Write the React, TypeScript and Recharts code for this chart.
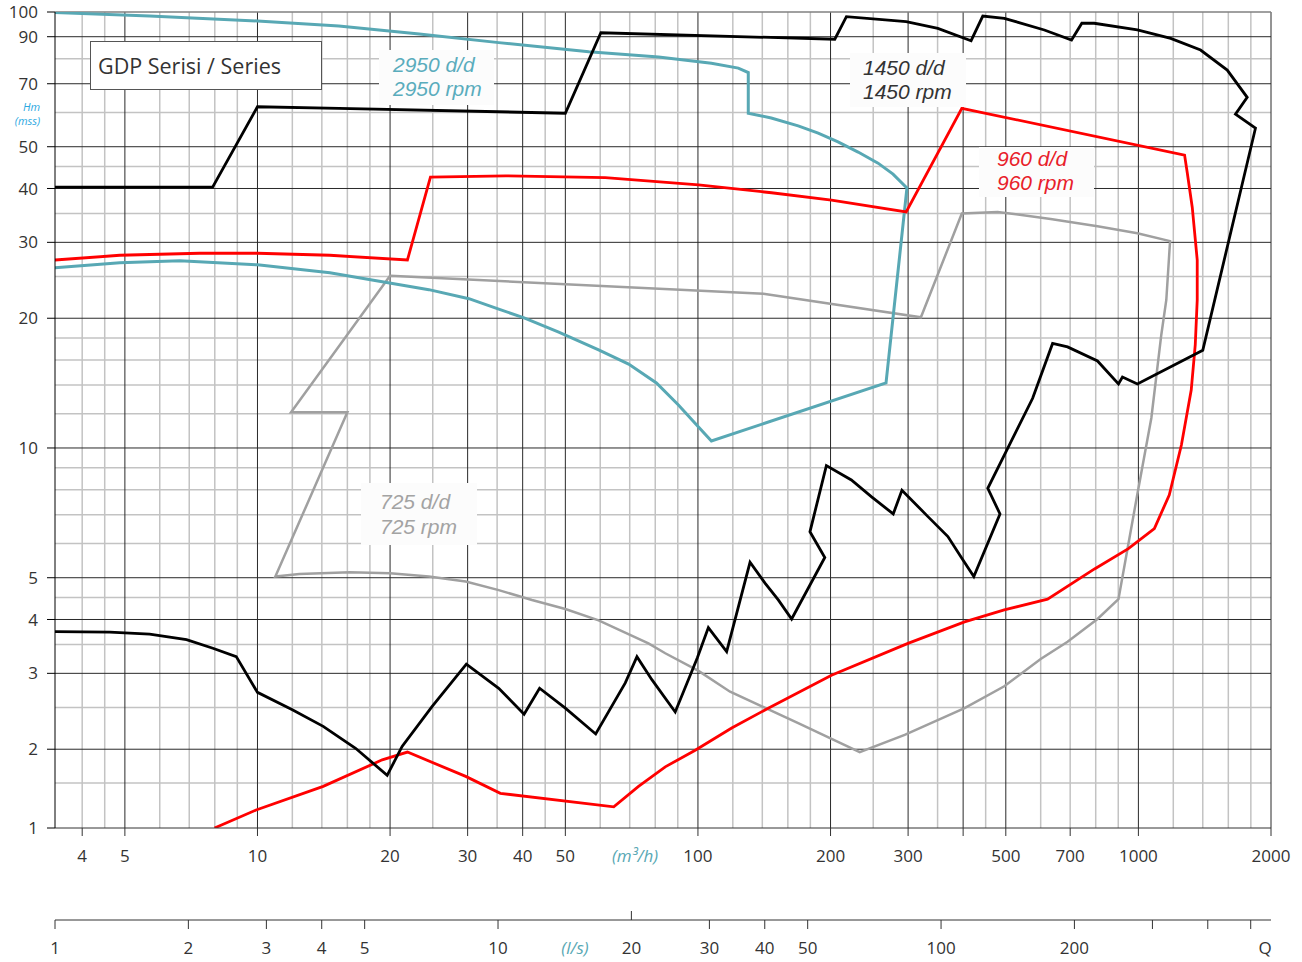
import React from "react";
import { LineChart, Line, XAxis, YAxis, CartesianGrid } from "recharts";

// flow Q in m3/h, head H in mss
const teal2950Q = [3.47, 5.69, 10, 15.3, 23.3, 35.3, 56.5, 81.4, 107.3, 123.5, 130.1, 130.1, 146.7, 168.9, 187.5, 208, 231, 256.4, 277.3, 298.2, 267.3, 107.3, 100.3, 90.3, 80.5, 69.6, 59.5, 48.3, 40.3, 35.3, 30.2, 24.5, 20.1, 14.6, 10, 6.66, 4.87, 3.47];
const teal2950H = [102.4, 100.5, 97.9, 95.3, 91.3, 87.2, 83.1, 80.8, 78.1, 76.1, 74.3, 59.8, 58.3, 55.9, 53.8, 51.3, 48.6, 45.8, 43.2, 40.1, 14.15, 10.38, 11.19, 12.58, 14.15, 15.66, 16.88, 18.58, 20.03, 21.0, 22.2, 23.3, 24.1, 25.5, 26.6, 27.2, 26.9, 26.2];

const black1450Q = [3.47, 7.91, 10, 15.3, 50, 60.2, 204.5, 217.3, 297, 350.5, 417, 443.3, 496, 611.5, 705, 744, 793.6, 994.7, 1184, 1384, 1591, 1766, 1661, 1844, 1400, 994.7, 920, 901, 807.5, 690.5, 638.5, 575.3, 455, 485, 423, 395.3, 369.4, 332.8, 290.5, 277.6, 247.5, 223, 195.7, 179.6, 194.1, 163.2, 152.2, 142, 131.3, 116.2, 105.6, 99.7, 88.8, 78.6, 72.7, 68.4, 58.6, 50, 43.7, 40.3, 35.3, 29.8, 24.9, 21.3, 19.7, 16.7, 14.1, 12.0, 10, 8.95, 7.92, 6.9, 5.69, 4.62, 3.47];
const black1450H = [40.3, 40.3, 61.9, 61.4, 59.8, 91.9, 88.8, 100.2, 97.5, 94.1, 88.1, 100.5, 99.3, 93.3, 88.4, 96.7, 96.7, 93.3, 89.2, 83.8, 75.3, 65.1, 59.5, 55.2, 16.85, 14.08, 14.61, 14.08, 15.92, 17.16, 17.48, 13.04, 8.06, 7.03, 5.03, 5.59, 6.23, 6.93, 7.98, 7.03, 7.71, 8.43, 9.1, 6.39, 5.57, 4.01, 4.44, 4.86, 5.43, 3.37, 3.83, 3.26, 2.44, 2.9, 3.28, 2.85, 2.17, 2.49, 2.77, 2.41, 2.77, 3.15, 2.51, 2.03, 1.74, 2.01, 2.26, 2.47, 2.71, 3.28, 3.43, 3.59, 3.7, 3.74, 3.75];

const red960Q = [3.47, 4.87, 7.39, 10, 14.6, 21.9, 24.7, 36.6, 61.6, 100.3, 146.9, 201, 297, 397.3, 1273, 1291, 1325, 1360, 1360, 1346, 1318, 1252, 1175, 1087, 949, 795, 622, 496, 403, 299.8, 201, 144.4, 119.3, 98.6, 84.3, 73.3, 64.4, 35.6, 29.7, 21.9, 19.2, 14.1, 9.93, 7.99];
const red960H = [27.3, 28.0, 28.3, 28.3, 28.0, 27.3, 42.5, 42.8, 42.4, 40.8, 39.1, 37.6, 35.3, 61.4, 47.8, 43.5, 36.2, 27.3, 22.05, 17.34, 13.63, 10.16, 7.78, 6.5, 5.84, 5.24, 4.46, 4.21, 3.95, 3.52, 2.97, 2.49, 2.24, 1.99, 1.82, 1.64, 1.47, 1.58, 1.73, 1.97, 1.89, 1.64, 1.446, 1.313];

const gray725Q = [20, 140.8, 320.8, 397.3, 479, 632, 807.5, 994.7, 1180, 1157, 1127, 1070, 994.7, 944.5, 901, 807.5, 690.5, 600, 496, 403, 294.7, 233, 168.9, 118.3, 100.3, 84.3, 77.2, 59.5, 50, 42.0, 35.3, 29.7, 24.5, 20.0, 16.2, 12.45, 10.98, 16.0, 11.92, 20];
const gray725H = [25.1, 22.8, 20.1, 35.0, 35.3, 34.0, 32.7, 31.5, 30.2, 22.05, 18.29, 11.74, 7.82, 5.83, 4.46, 4.01, 3.55, 3.24, 2.8, 2.49, 2.16, 1.97, 2.3, 2.72, 3.04, 3.34, 3.52, 3.98, 4.23, 4.44, 4.68, 4.9, 5.03, 5.12, 5.15, 5.1, 5.03, 12.1, 12.1, 25.1];

// axes
const flowDomain = [3.47, 2000];
const flowTicks = [4, 5, 10, 20, 30, 40, 50, 100, 200, 300, 400, 500, 700, 1000, 2000];
const flowTickLabels = ["4", "5", "10", "20", "30", "40", "50", "100", "200", "300", "", "500", "700", "1000", "2000"];
const lsDomain = [1, 555.6];
const lsTicks = [1, 2, 3, 4, 5, 10, 20, 30, 40, 50, 100, 200, 300, 400, 500];
const lsTickLabels = ["1", "2", "3", "4", "5", "10", "20", "30", "40", "50", "100", "200", "", "", ""];
const headDomain = [1.313, 102.7];
const headTicks = [1.313, 2, 3, 4, 5, 10, 20, 30, 40, 50, 70, 90, 102.7];
const headTickLabels = ["1", "2", "3", "4", "5", "10", "20", "30", "40", "50", "70", "90", "100"];

// grid
const flowMinorGrid = [4, 4.5, 6, 7, 8, 9, 12, 14, 16, 18, 25, 35, 45, 60, 70, 80, 90, 120, 140, 160, 180, 250, 350, 450, 600, 700, 800, 900, 1200, 1400, 1600, 1800];
const flowMajorGrid = [5, 10, 20, 30, 40, 50, 100, 200, 300, 400, 500, 1000, 2000];
const headMinorGrid = [1.67, 2.5, 3.5, 4.5, 6, 7, 8, 9, 12, 14, 16, 18, 25, 35, 45, 60, 80];
const headMajorGrid = [2, 3, 4, 5, 10, 20, 30, 40, 50, 70, 90];

const pts = (q: number[], h: number[]) => q.map((v, i) => ({ q: v, h: h[i] }));

const TEAL = "#58a8b4";
const FONT = "'Open Sans', sans-serif";

function LsTick(props: any) {
  const { x, y, payload } = props;
  const i = lsTicks.indexOf(payload.value);
  const axisY = y - 9 - 13;
  const up = payload.value === 20;
  return (
    <g>
      <line x1={x} x2={x} y1={axisY} y2={up ? axisY - 9 : axisY + 9} stroke="#333" strokeWidth={1} />
      <text x={x} y={y} dy="0.71em" textAnchor="middle" fill="#333" fontSize={17} fontFamily={FONT}>
        {lsTickLabels[i]}
      </text>
    </g>
  );
}

const box = (left: number, top: number, w: number, h: number): React.CSSProperties => ({
  position: "absolute",
  left,
  top,
  width: w,
  height: h,
  background: "#fcfcfc",
  fontFamily: "'Liberation Sans', Arial, sans-serif",
  fontStyle: "italic",
  fontSize: 21,
  lineHeight: "24px",
  boxSizing: "border-box",
  whiteSpace: "nowrap",
});

export default function App() {
  return (
    <div style={{ position: "absolute", left: 0, top: 0, width: 1302, height: 962, background: "#fff" }}>
      <LineChart width={1302} height={962} margin={{ top: 12, right: 31, bottom: 0, left: 0 }}>
        <CartesianGrid verticalValues={flowMinorGrid} horizontalValues={headMinorGrid} stroke="#c3c3c3" strokeWidth={1.5} />
        <CartesianGrid verticalValues={flowMajorGrid} horizontalValues={headMajorGrid} stroke="#2a2a2a" strokeWidth={1} />
        <CartesianGrid vertical={false} horizontalValues={[102.7]} stroke="#808080" strokeWidth={1.5} />
        <XAxis
          dataKey="q"
          type="number"
          scale="log"
          domain={flowDomain}
          allowDataOverflow
          ticks={flowTicks}
          interval={0}
          tickFormatter={(v: number) => flowTickLabels[flowTicks.indexOf(v)]}
          height={92}
          tickSize={8}
          tickMargin={14}
          stroke="#333"
          tick={{ fill: "#333", fontSize: 17, fontFamily: FONT }}
        />
        <XAxis
          xAxisId="ls"
          dataKey="q"
          type="number"
          scale="log"
          domain={lsDomain}
          allowDataOverflow
          ticks={lsTicks}
          interval={0}
          height={42}
          tickSize={9}
          tickMargin={13}
          tickLine={false}
          stroke="#333"
          tick={<LsTick />}
        />
        <YAxis
          dataKey="h"
          type="number"
          scale="log"
          domain={headDomain}
          allowDataOverflow
          ticks={headTicks}
          interval={0}
          tickFormatter={(v: number) => headTickLabels[headTicks.indexOf(v)]}
          width={55}
          tickSize={8}
          tickMargin={9}
          stroke="#000"
          tick={{ fill: "#333", fontSize: 17, fontFamily: FONT }}
        />
        <Line data={pts(gray725Q, gray725H)} dataKey="h" type="linear" stroke="#a0a0a0" strokeWidth={2.5} dot={false} activeDot={false} isAnimationActive={false} />
        <Line data={pts(teal2950Q, teal2950H)} dataKey="h" type="linear" stroke={TEAL} strokeWidth={3} dot={false} activeDot={false} isAnimationActive={false} />
        <Line data={pts(red960Q, red960H)} dataKey="h" type="linear" stroke="#ff0000" strokeWidth={2.8} dot={false} activeDot={false} isAnimationActive={false} />
        <Line data={pts(black1450Q, black1450H)} dataKey="h" type="linear" stroke="#000" strokeWidth={2.8} dot={false} activeDot={false} isAnimationActive={false} />
      </LineChart>

      {/* legend box */}
      <div
        style={{
          position: "absolute",
          left: 90,
          top: 41,
          width: 232,
          height: 49,
          border: "1px solid #555",
          background: "#fff",
          boxSizing: "border-box",
          paddingLeft: 7,
          paddingTop: 3,
          lineHeight: "42px",
          fontFamily: FONT,
          fontSize: 21.5,
          color: "#333",
          whiteSpace: "nowrap",
        }}
      >
        GDP Serisi / Series
      </div>

      {/* speed labels */}
      <div style={{ ...box(379, 50, 115, 55), paddingLeft: 14, paddingTop: 3, color: "#5aacbc" }}>
        2950 d/d
        <br />
        2950 rpm
      </div>
      <div style={{ ...box(850, 53, 116, 54), paddingLeft: 13, paddingTop: 3, color: "#333" }}>
        1450 d/d
        <br />
        1450 rpm
      </div>
      <div style={{ ...box(979, 147, 115, 50), paddingLeft: 18, paddingTop: 0, color: "#e8202a" }}>
        960 d/d
        <br />
        960 rpm
      </div>
      <div style={{ ...box(361, 483, 116, 62), paddingLeft: 19, paddingTop: 6, color: "#a3a3a3", lineHeight: "25px" }}>
        725 d/d
        <br />
        725 rpm
      </div>

      {/* axis captions */}
      <div style={{ position: "absolute", left: 0, top: 100, width: 55, textAlign: "center", fontFamily: FONT, fontStyle: "italic", fontSize: 11, lineHeight: "14px", color: "#2aa7df" }}>
        <span style={{ marginLeft: 8 }}>Hm</span>
        <br />
        (mss)
      </div>
      <div style={{ position: "absolute", left: 605, top: 844, width: 60, textAlign: "center", fontFamily: FONT, fontStyle: "italic", fontSize: 17, color: TEAL, lineHeight: "24px" }}>
        (m³/h)
      </div>
      <div style={{ position: "absolute", left: 550, top: 936, width: 50, textAlign: "center", fontFamily: FONT, fontStyle: "italic", fontSize: 17, color: TEAL, lineHeight: "24px" }}>
        (l/s)
      </div>
      <div style={{ position: "absolute", left: 1255, top: 936, width: 20, textAlign: "center", fontFamily: FONT, fontSize: 17, color: "#333", lineHeight: "24px" }}>
        Q
      </div>
    </div>
  );
}
